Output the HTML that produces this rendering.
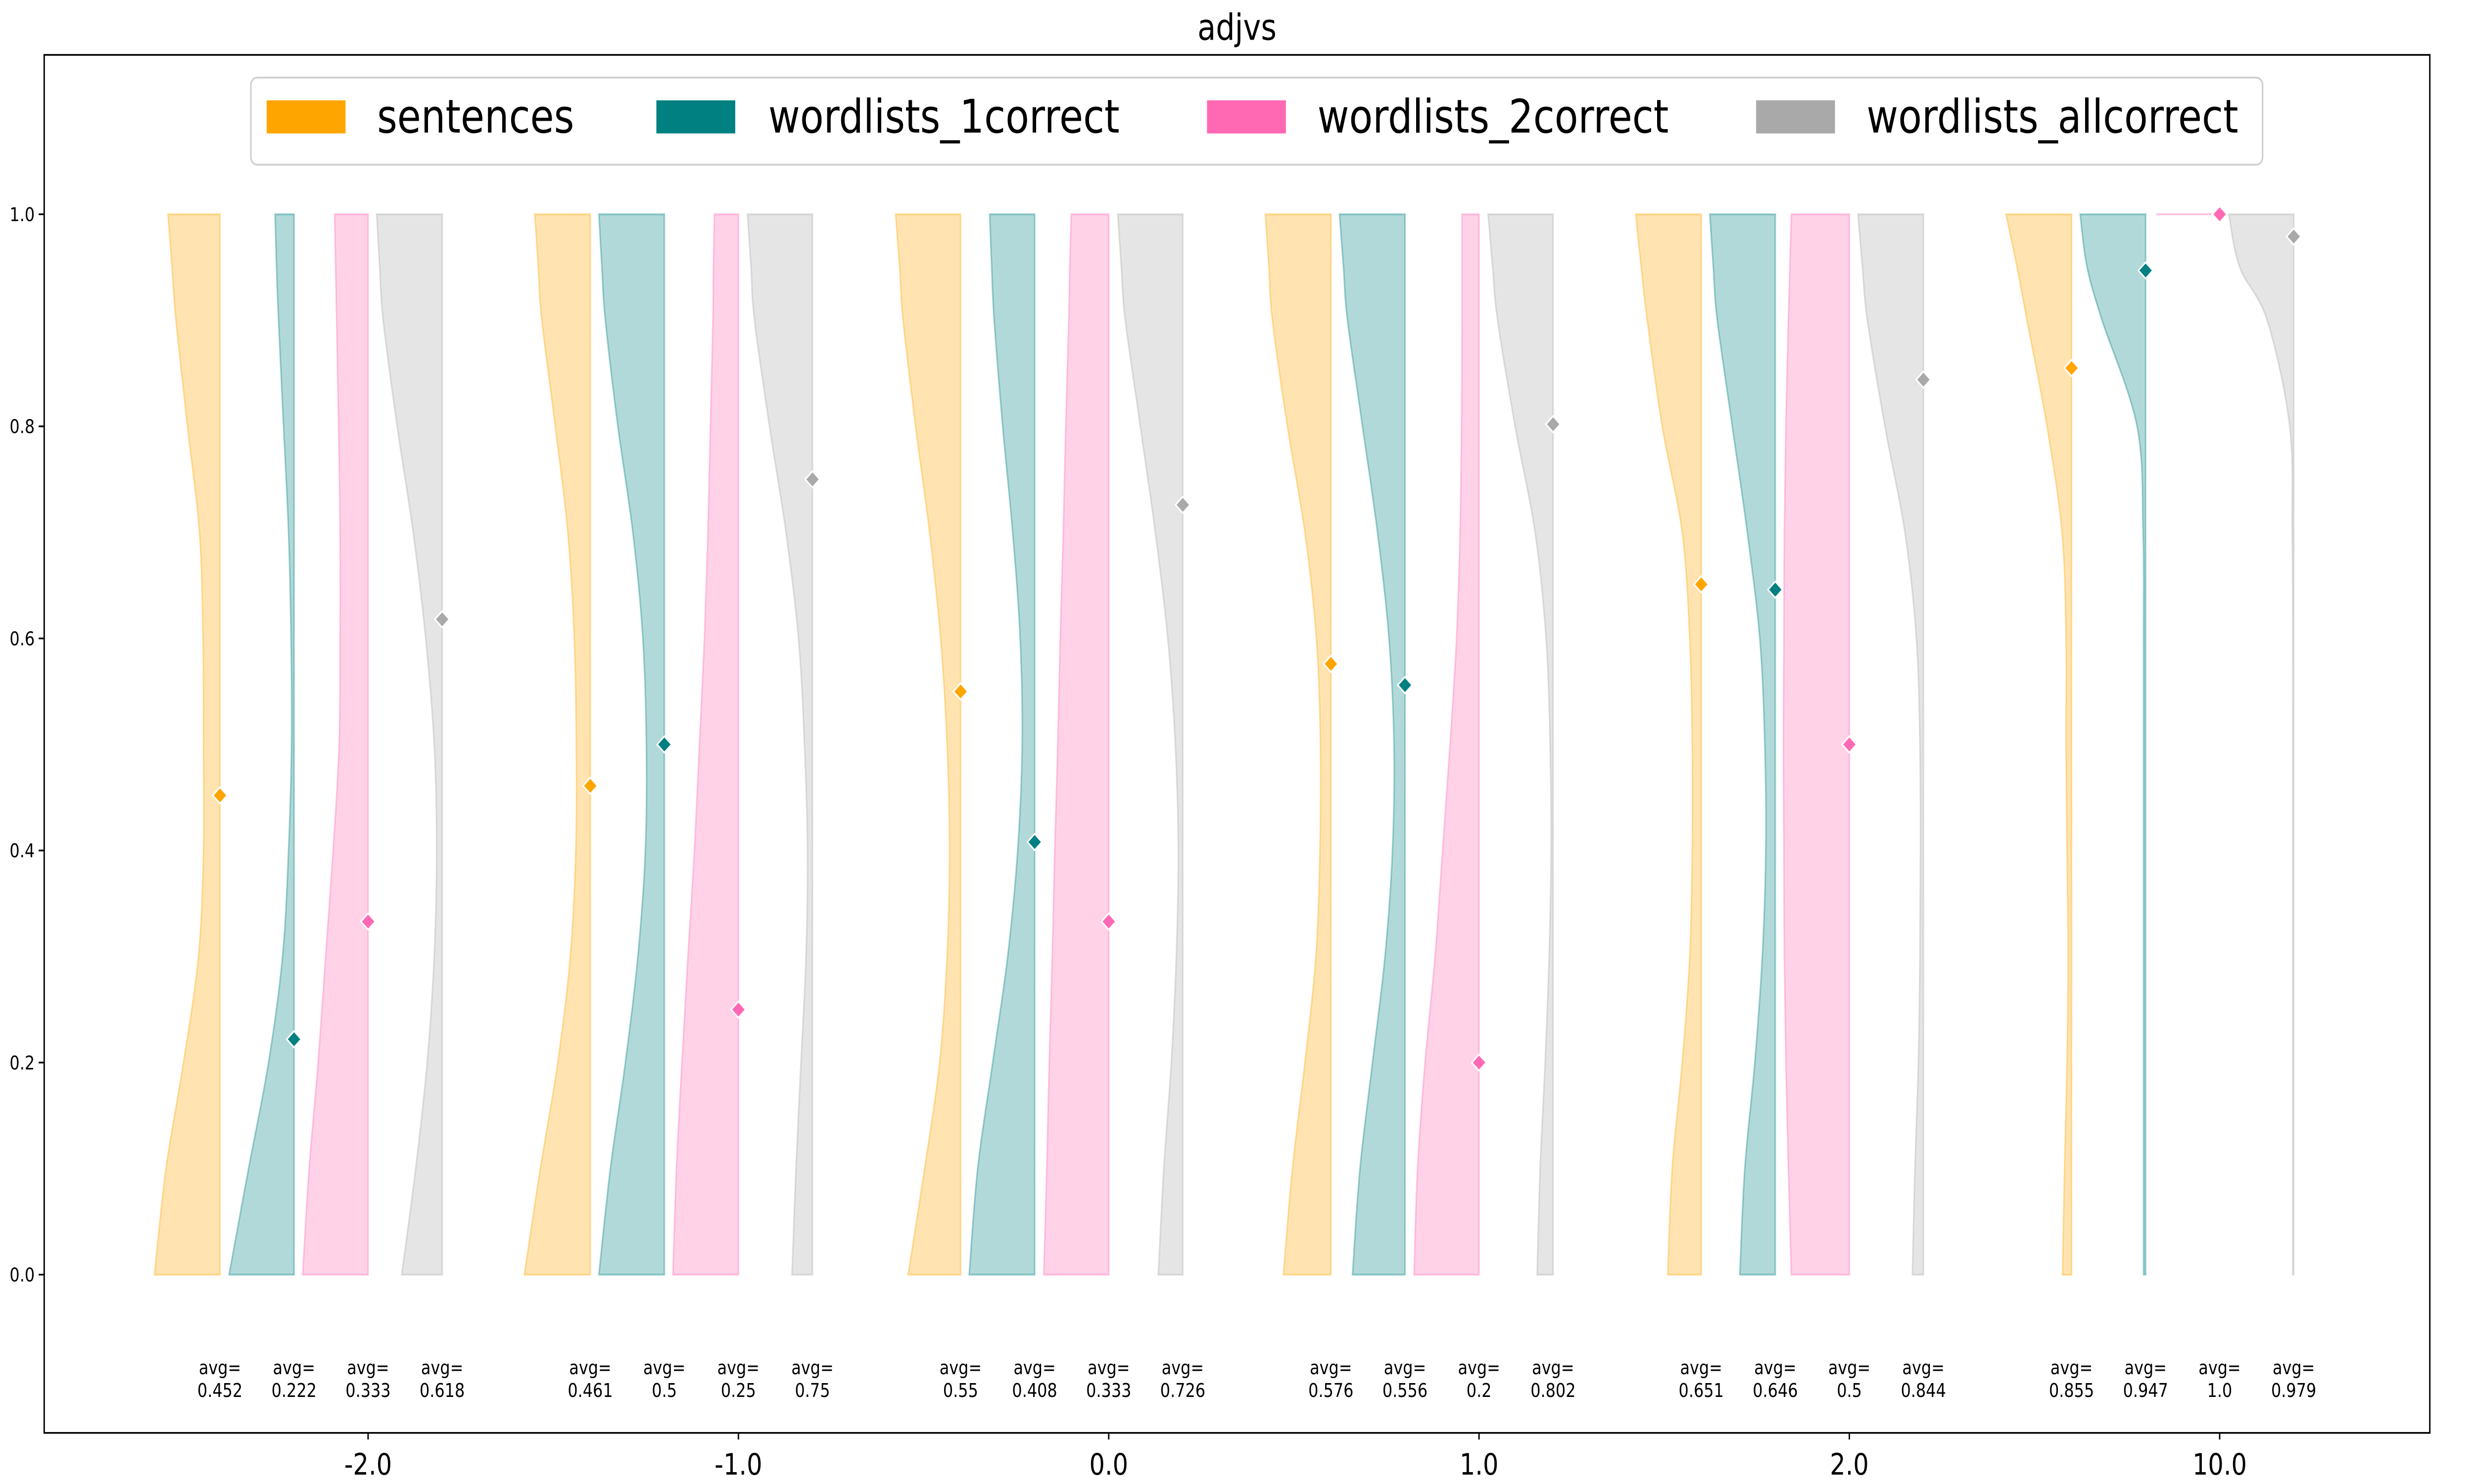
<!DOCTYPE html>
<html><head><meta charset="utf-8"><style>
html,body{margin:0;padding:0;background:#fff;overflow:hidden;width:100vw;height:100vh;}
svg{display:block;width:100vw;height:100vh;font-family:"DejaVu Sans","Liberation Sans",sans-serif;}
</style></head><body>
<svg id="chart" xmlns="http://www.w3.org/2000/svg" viewBox="0 0 1568 784" preserveAspectRatio="none">
<rect x="0" y="0" width="1568" height="784" fill="#fff"/>
<text x="784" y="21" font-size="19" text-anchor="middle">adjvs</text>
<g id="plot"></g>
<g id="legend">
<rect x="159" y="41" width="1275" height="46" rx="4" fill="#fff" stroke="#d0d0d0" stroke-width="1"/>
<rect x="169" y="53" width="50" height="17.5" fill="#FFA500"/>
<text x="239" y="70" font-size="24.5">sentences</text>
<rect x="416" y="53" width="50" height="17.5" fill="#008080"/>
<text x="487" y="70" font-size="24.5">wordlists_1correct</text>
<rect x="765" y="53" width="50" height="17.5" fill="#FF69B4"/>
<text x="835" y="70" font-size="24.5">wordlists_2correct</text>
<rect x="1113" y="53" width="50" height="17.5" fill="#A9A9A9"/>
<text x="1183" y="70" font-size="24.5">wordlists_allcorrect</text>
</g>
</svg>
<script>
// ---- data ----
const categories = ["-2.0","-1.0","0.0","1.0","2.0","10.0"];
const seriesNames = ["sentences","wordlists_1correct","wordlists_2correct","wordlists_allcorrect"];
const yTicks = [0.0,0.2,0.4,0.6,0.8,1.0];
const densityLevels = [0,0.1,0.2,0.3,0.4,0.5,0.6,0.7,0.8,0.9,0.95,1.0];
// relative violin widths (max 131) at densityLevels, per category
const sentencesDensity = [
 [131,108,73,43,33,33,34,41,65,88,96,104],
 [132,100,65,40,29,28,32,45,70,97,104,111],
 [105,72,42,27,22,27,40,62,90,115,122,130],
 [95,77,52,30,22,21,29,52,87,117,124,131],
 [67,58,38,23,18,18,23,38,78,108,120,131],
 [18,14,9,7,9,11,11,19,49,89,109,131]];
const oneCorrectDensity = [
 [130,91,51,23,11,5,6,11,21,31,35,38],
 [131,108,78,53,38,36,43,63,93,118,125,131],
 [131,114,84,54,34,25,29,44,64,81,86,90],
 [105,90,65,40,25,22,32,55,85,115,123,131],
 [71,61,41,26,19,21,31,56,86,116,124,131],
 [4,4,4,4,4,4,4,5,17,87,117,131]];
const twoCorrectDensity = [
 [131,118,100,85,70,58,56,56,59,63,65,67],
 [131,124,113,101,88,78,68,61,56,51,50,48],
 [130,124,119,113,108,102,97,91,86,80,78,75],
 [130,123,108,88,73,58,45,38,35,34,34,34],
 [116,122,127,130,131,132,131,130,127,122,119,116],
 [0,0,0,0,0,0,0,0,0,0,0,127]];
const allCorrectDensity = [
 [81,53,30,16,11,16,33,58,90,118,125,131],
 [41,33,23,13,10,16,28,53,86,116,123,130],
 [49,38,23,13,9,15,30,55,85,115,123,130],
 [32,26,16,8,4,6,14,36,76,111,121,130],
 [22,17,10,7,6,7,14,37,77,112,122,131],
 [2,2,2,2,2,2,2,3,8,53,108,130]];
const sentencesAvg = [0.452,0.461,0.55,0.576,0.651,0.855];
const oneCorrectAvg = [0.222,0.5,0.408,0.556,0.646,0.947];
const twoCorrectAvg = [0.333,0.25,0.333,0.2,0.5,1.0];
const allCorrectAvg = [0.618,0.75,0.726,0.802,0.844,0.979];

// ---- layout ----
const NS="http://www.w3.org/2000/svg";
const plot=document.getElementById('plot');
const L=28,R=1540,T=29,B=757;
const x0=233.3, xStep=234.7;
const y0=673.4, y1=113.2;
const densMax=131, widthPx=41.5;
const offsets=[-0.4,-0.2,0,0.2];
const fills=["#FFA500","#008080","#FF69B4","#A9A9A9"];
const densities=[sentencesDensity,oneCorrectDensity,twoCorrectDensity,allCorrectDensity];
const avgs=[sentencesAvg,oneCorrectAvg,twoCorrectAvg,allCorrectAvg];
function xScale(i){return x0+i*xStep;}
function yScale(v){return y0+(y1-y0)*v;}
function wScale(d){return d/densMax*widthPx;}
function mk(tag,attrs){const e=document.createElementNS(NS,tag);for(const k in attrs)e.setAttribute(k,attrs[k]);return e;}
function fmt(v){return Number.isInteger(v)?v.toFixed(1):String(v);}

// violins
for(let s=0;s<4;s++){
  for(let i=0;i<categories.length;i++){
    const ex=xScale(i)+offsets[s]*xStep;
    const d=densities[s][i];
    const onlyTop=d.slice(0,-1).every(v=>v===0);
    let el;
    if(onlyTop){
      el=mk('line',{x1:ex-wScale(d[d.length-1]),x2:ex,y1:yScale(1),y2:yScale(1),stroke:fills[s],'stroke-opacity':0.4,'stroke-width':1});
    } else {
      const pts=densityLevels.map((lv,k)=>[ex-wScale(d[k]),yScale(lv)]);
      let p=`M${ex},${yScale(0)} L${pts[0][0]},${pts[0][1]}`;
      for(let k=0;k<pts.length-1;k++){
        const p0=pts[Math.max(0,k-1)],p1=pts[k],p2=pts[k+1],p3=pts[Math.min(pts.length-1,k+2)];
        const c1=[p1[0]+(p2[0]-p0[0])/6,p1[1]+(p2[1]-p0[1])/6];
        const c2=[p2[0]-(p3[0]-p1[0])/6,p2[1]-(p3[1]-p1[1])/6];
        p+=` C${c1[0]},${c1[1]} ${c2[0]},${c2[1]} ${p2[0]},${p2[1]}`;
      }
      p+=` L${ex},${yScale(1)} Z`;
      el=mk('path',{d:p,fill:fills[s],'fill-opacity':0.3,stroke:fills[s],'stroke-opacity':0.35,'stroke-width':1});
    }
    
    
    plot.appendChild(el);
  }
}
// avg markers and labels
for(let s=0;s<4;s++){
  for(let i=0;i<categories.length;i++){
    const ex=xScale(i)+offsets[s]*xStep, ey=yScale(avgs[s][i]);
    const m=mk('path',{d:`M${ex},${ey-4.3} L${ex+4.6},${ey} L${ex},${ey+4.3} L${ex-4.6},${ey} Z`,fill:fills[s],stroke:'#fff','stroke-width':0.9});
    
    
    plot.appendChild(m);
    const t=mk('text',{x:ex,y:726,'font-size':10,'text-anchor':'middle'});
    
    
    const a=mk('tspan',{x:ex,y:726});a.textContent='avg=';
    const b=mk('tspan',{x:ex,y:738});b.textContent=fmt(avgs[s][i]);
    t.appendChild(a);t.appendChild(b);
    plot.appendChild(t);
  }
}
// axes frame
const frame=mk('rect',{x:L,y:T,width:R-L,height:B-T,fill:'none',stroke:'#000','stroke-width':0.9});


plot.appendChild(frame);
// y ticks
yTicks.forEach(v=>{
  const y=yScale(v);
  const tk=mk('line',{x1:L-3.5,x2:L,y1:y,y2:y,stroke:'#000','stroke-width':0.9});
  
  
  plot.appendChild(tk);
  const lb=mk('text',{x:L-6,y:y+3.6,'font-size':10,'text-anchor':'end'});
  
  
  lb.textContent=v.toFixed(1);
  plot.appendChild(lb);
});
// x ticks
categories.forEach((c,i)=>{
  const x=xScale(i);
  const tk=mk('line',{x1:x,x2:x,y1:B,y2:B+3.5,stroke:'#000','stroke-width':0.9});
  
  
  plot.appendChild(tk);
  const lb=mk('text',{x:x,y:779,'font-size':15.5,'text-anchor':'middle'});
  
  
  lb.textContent=c;
  plot.appendChild(lb);
});
</script>
</body></html>
